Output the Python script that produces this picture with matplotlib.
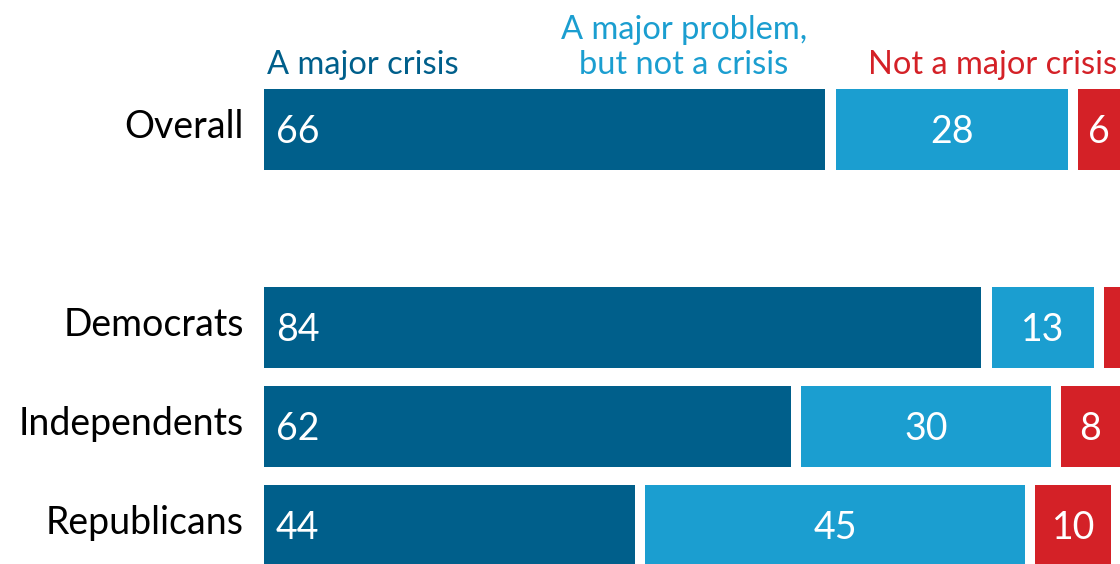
import matplotlib
matplotlib.use("Agg")
import matplotlib.pyplot as plt

categories = ["Overall", "Democrats", "Independents", "Republicans"]
crisis = [66, 84, 62, 44]
problem = [28, 13, 30, 45]
not_crisis = [6, 3, 8, 10]
show_label = [[True, True, True], [True, True, False], [True, True, True], [True, True, True]]
headers = ["A major crisis", "A major problem,\nbut not a crisis", "Not a major crisis"]

positions = [0, 2, 3, 4]
colors = ["#005F8B", "#1B9ED0", "#D42127"]

plt.rcParams['font.family'] = ['Lato', 'DejaVu Sans']

W, H = 1120, 564
fig = plt.figure(figsize=(W / 100, H / 100), dpi=100)
ax = fig.add_axes([264 / W, 0, (W - 264) / W, 1])

gap = 1.2
bar_h = 0.82
fs_num = 27
fs_cat = 27
fs_head = 23.5

for i, cat in enumerate(categories):
    y = positions[i]
    vals = [crisis[i], problem[i], not_crisis[i]]
    left = 0
    for j, v in enumerate(vals):
        w = v - gap
        ax.barh(y, w, left=left, height=bar_h, color=colors[j], edgecolor='none')
        if show_label[i][j]:
            if j == 0:
                ax.text(left + 1.35, y + 0.03, str(v), ha='left', va='center',
                        color='white', fontsize=fs_num)
            else:
                ax.text(left + w / 2, y + 0.03, str(v), ha='center', va='center',
                        color='white', fontsize=fs_num)
        left += v

ax.set_xlim(0, 100 - gap)
top = -129.5 / 99
bottom = (H - 129.5) / 99
ax.set_ylim(bottom, top)
ax.axis('off')

# category labels
for i, cat in enumerate(categories):
    ax.annotate(cat, xy=(0, positions[i] - 0.03), xycoords=('axes fraction', 'data'),
                xytext=(-20, 0), textcoords='offset pixels',
                ha='right', va='center', fontsize=fs_cat, color='black')

# headers
fig.text(267 / W, 1 - 74 / H, headers[0], ha='left', va='baseline',
         fontsize=fs_head, color=colors[0])
fig.text(684 / W, 1 - 74 / H, headers[1], ha='center', va='baseline',
         fontsize=fs_head, color=colors[1], linespacing=1.2, multialignment='center')
fig.text(1117 / W, 1 - 74 / H, headers[2], ha='right', va='baseline',
         fontsize=fs_head, color=colors[2])

fig.savefig("out.png", dpi=100)
